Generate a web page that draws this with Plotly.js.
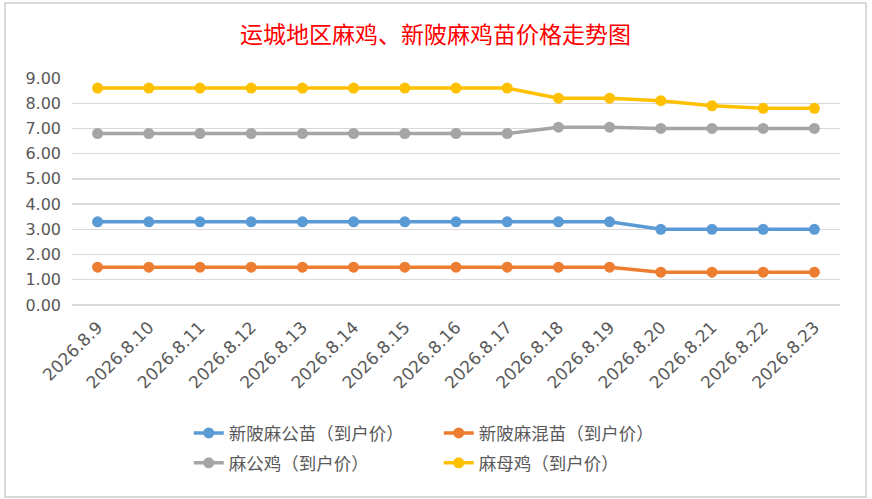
<!DOCTYPE html>
<html>
<head>
<meta charset="utf-8">
<script src="https://cdn.plot.ly/plotly-3.0.1.min.js"></script>
<style>
  html, body { margin: 0; padding: 0; background: #ffffff; }
  #chart { position: absolute; left: 4px; top: 2px; width: 859px; height: 492px; border: 2px solid #d9d9d9; }
</style>
</head>
<body>
<div id="chart"></div>
<script>
// 日期（横轴）
var dates = ['2026.8.9', '2026.8.10', '2026.8.11', '2026.8.12', '2026.8.13', '2026.8.14', '2026.8.15',
    '2026.8.16', '2026.8.17', '2026.8.18', '2026.8.19', '2026.8.20', '2026.8.21', '2026.8.22', '2026.8.23'];

// 各品种到户价
var xinPiMaleChick = [3.3, 3.3, 3.3, 3.3, 3.3, 3.3, 3.3, 3.3, 3.3, 3.3, 3.3, 3.0, 3.0, 3.0, 3.0];
var xinPiMixedChick = [1.5, 1.5, 1.5, 1.5, 1.5, 1.5, 1.5, 1.5, 1.5, 1.5, 1.5, 1.3, 1.3, 1.3, 1.3];
var maleChicken = [6.8, 6.8, 6.8, 6.8, 6.8, 6.8, 6.8, 6.8, 6.8, 7.05, 7.05, 7.0, 7.0, 7.0, 7.0];
var henChicken = [8.6, 8.6, 8.6, 8.6, 8.6, 8.6, 8.6, 8.6, 8.6, 8.2, 8.2, 8.1, 7.9, 7.8, 7.8];

var seriesNames = ['新陂麻公苗（到户价）', '新陂麻混苗（到户价）', '麻公鸡（到户价）', '麻母鸡（到户价）'];
var seriesColors = ['#5b9bd5', '#ed7d31', '#a5a5a5', '#ffc000'];
var seriesValues = [xinPiMaleChick, xinPiMixedChick, maleChicken, henChicken];
var seriesLegend = ['legend', 'legend', 'legend2', 'legend2']; // two legend rows

var yTicks = [0, 1, 2, 3, 4, 5, 6, 7, 8, 9];

var traces = [];
for (var i = 0; i < seriesValues.length; i++) {
    traces.push({
        name: seriesNames[i],
        x: dates,
        y: seriesValues[i],
        type: 'scatter',
        mode: 'lines+markers',
        legend: seriesLegend[i],
        line: { color: seriesColors[i], width: 3.5 },
        marker: { color: seriesColors[i], size: 11 }
    });
}

function legendRow(yPos) {
    return {
        orientation: 'h',
        x: 0.152, xanchor: 'left',
        y: yPos, yanchor: 'middle',
        entrywidth: 205,
        font: { size: 17.5, color: '#595959' },
        bgcolor: 'rgba(0,0,0,0)'
    };
}

var layout = {
    width: 859,
    height: 492,
    paper_bgcolor: '#ffffff',
    plot_bgcolor: '#ffffff',
    font: { family: '"Noto Sans CJK SC", "Noto Sans", sans-serif', color: '#595959' },
    margin: { l: 66, r: 25, t: 74, b: 191 },
    title: {
        text: '运城地区麻鸡、新陂麻鸡苗价格走势图',
        font: { family: '"Noto Sans CJK SC", sans-serif', size: 23, color: '#ff0000' },
        x: 0.5, xanchor: 'center',
        y: 0.938, yref: 'container', yanchor: 'middle'
    },
    showlegend: true,
    legend: legendRow(-0.564),
    legend2: legendRow(-0.696),
    xaxis: {
        type: 'category',
        showgrid: false,
        showline: false,
        ticks: '',
        tickangle: -45,
        ticklabelstandoff: 8,
        tickfont: { family: '"DejaVu Sans", sans-serif', size: 17, color: '#595959' },
        range: [-0.5, dates.length - 0.5]
    },
    yaxis: {
        range: [0, 9],
        tickvals: yTicks,
        tickformat: '.2f',
        showgrid: true,
        gridcolor: '#d9d9d9',
        gridwidth: 1.3,
        zeroline: true,
        zerolinecolor: '#d9d9d9',
        zerolinewidth: 1.5,
        ticks: '',
        ticklabelstandoff: 10,
        tickfont: { family: '"DejaVu Sans", sans-serif', size: 16, color: '#595959' }
    }
};

Plotly.newPlot('chart', traces, layout, { staticPlot: true });
</script>
</body>
</html>
